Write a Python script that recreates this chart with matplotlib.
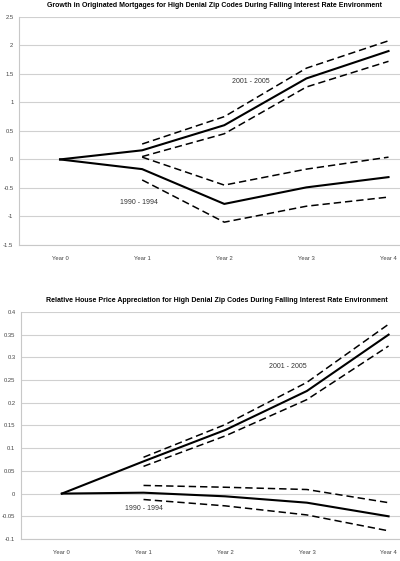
import matplotlib
matplotlib.use("Agg")
import matplotlib.pyplot as plt

plt.rcParams['font.family'] = ['Liberation Sans', 'DejaVu Sans']

years = ["Year 0", "Year 1", "Year 2", "Year 3", "Year 4"]

# Top chart: growth in originated mortgages
mort_0105 = [0, 0.16, 0.60, 1.42, 1.90]
mort_0105_hi = [None, 0.27, 0.75, 1.60, 2.08]
mort_0105_lo = [None, 0.05, 0.45, 1.27, 1.72]
mort_9094 = [0, -0.17, -0.78, -0.49, -0.31]
mort_9094_hi = [None, 0.04, -0.45, -0.17, 0.04]
mort_9094_lo = [None, -0.36, -1.10, -0.82, -0.66]

# Bottom chart: relative house price appreciation
hpa_0105 = [0, 0.071, 0.140, 0.226, 0.350]
hpa_0105_hi = [None, 0.080, 0.152, 0.245, 0.373]
hpa_0105_lo = [None, 0.060, 0.127, 0.207, 0.325]
hpa_9094 = [0, 0.002, -0.006, -0.020, -0.050]
hpa_9094_hi = [None, 0.018, 0.014, 0.009, -0.020]
hpa_9094_lo = [None, -0.013, -0.027, -0.047, -0.082]

title_top = "Growth in Originated Mortgages for High Denial Zip Codes During Falling Interest Rate Environment"
title_bot = "Relative House Price Appreciation for High Denial Zip Codes During Falling Interest Rate Environment"

fig = plt.figure(figsize=(4.0, 5.61), dpi=100)


def draw(ax, series, ylim, yticks, ylabels, title, title_x, lab1, lab2):
    x = list(range(len(years)))
    for vals, ls in series:
        xs = [xi for xi, v in zip(x, vals) if v is not None]
        vs = [v for v in vals if v is not None]
        ax.plot(xs, vs, color='black', lw=1.5 if ls == '-' else 1.1,
                linestyle='-' if ls == '-' else (0, (4.8, 2.6)))
    ax.set_xlim(-0.5, 4.14)
    ax.set_ylim(*ylim)
    ax.set_yticks(yticks)
    ax.set_yticklabels(ylabels)
    ax.set_xticks(x)
    ax.set_xticklabels(years)
    ax.yaxis.grid(True, color='#d0d0d0', lw=0.8)
    ax.set_axisbelow(True)
    for s in ['top', 'right']:
        ax.spines[s].set_visible(False)
    for s in ['left', 'bottom']:
        ax.spines[s].set_color('#c8c8c8')
        ax.spines[s].set_linewidth(0.8)
    ax.tick_params(axis='both', length=0, labelsize=4.2, colors='#444444', pad=4)
    ax.tick_params(axis='x', pad=8)
    ax.set_title(title, fontsize=5.0, fontweight='bold', pad=7, loc='center', x=title_x)
    ax.text(lab1[0], lab1[1], "2001 - 2005", fontsize=5, color='#333333', ha='center', va='center')
    ax.text(lab2[0], lab2[1], "1990 - 1994", fontsize=5, color='#333333', ha='center', va='center')


ax1 = fig.add_axes([0.0475, 0.5633, 0.9525, 0.4067])
draw(ax1,
     [(mort_0105, '-'), (mort_0105_hi, '--'), (mort_0105_lo, '--'),
      (mort_9094, '-'), (mort_9094_hi, '--'), (mort_9094_lo, '--')],
     (-1.5, 2.5),
     [-1.5, -1, -0.5, 0, 0.5, 1, 1.5, 2, 2.5],
     ["-1.5", "-1", "-0.5", "0", "0.5", "1", "1.5", "2", "2.5"],
     title_top, 0.512, (2.32, 1.36), (0.96, -0.75))

ax2 = fig.add_axes([0.0525, 0.0392, 0.9475, 0.4047])
draw(ax2,
     [(hpa_0105, '-'), (hpa_0105_hi, '--'), (hpa_0105_lo, '--'),
      (hpa_9094, '-'), (hpa_9094_hi, '--'), (hpa_9094_lo, '--')],
     (-0.1, 0.4),
     [-0.1, -0.05, 0, 0.05, 0.1, 0.15, 0.2, 0.25, 0.3, 0.35, 0.4],
     ["-0.1", "-0.05", "0", "0.05", "0.1", "0.15", "0.2", "0.25", "0.3", "0.35", "0.4"],
     title_bot, 0.517, (2.77, 0.279), (1.0, -0.033))

fig.savefig("out.png", dpi=100)
